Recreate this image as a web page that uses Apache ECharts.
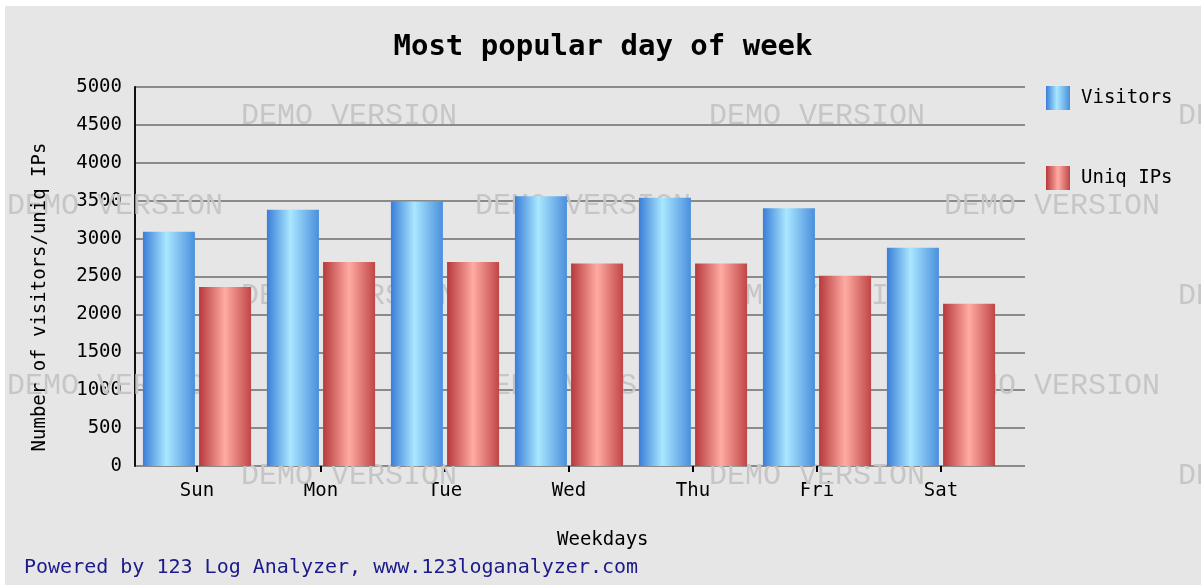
<!DOCTYPE html>
<html>
<head>
<meta charset="utf-8">
<script src="https://cdn.jsdelivr.net/npm/echarts@6/dist/echarts.min.js"></script>
<style>
html,body{margin:0;padding:0;background:#ffffff;}
#c{position:absolute;left:5px;top:6px;width:1196px;height:579px;}
</style>
</head>
<body>
<div id="c"></div>
<script>
const categories = ['Sun', 'Mon', 'Tue', 'Wed', 'Thu', 'Fri', 'Sat'];
const visitors = [3090, 3380, 3490, 3560, 3540, 3400, 2880];
const uniqIPs = [2360, 2690, 2690, 2670, 2670, 2510, 2140];
const yTicks = { min: 0, max: 5000, interval: 500 };
const titleText = 'Most popular day of week';
const yName = 'Number of visitors/uniq IPs';
const xName = 'Weekdays';
const footer = 'Powered by 123 Log Analyzer, www.123loganalyzer.com';

const FONT = '"DejaVu Sans Mono", "Liberation Mono", monospace';
const OX = 5, OY = 6; // container offset

function grad(stops) {
  return new echarts.graphic.LinearGradient(0, 0, 1, 0, stops);
}
const blueGrad = grad([
  { offset: 0, color: '#3a7ed8' },
  { offset: 0.45, color: '#a9e7ff' },
  { offset: 1, color: '#4a8fdc' }
]);
const redGrad = grad([
  { offset: 0, color: '#b6393b' },
  { offset: 0.5, color: '#ffaba3' },
  { offset: 1, color: '#c04646' }
]);

const wm = [];
const wmRows = [
  [116, [241, 709, 1178]],
  [206, [7, 475, 944]],
  [296, [241, 709, 1178]],
  [386, [7, 475, 944]],
  [476, [241, 709, 1178]]
];
wmRows.forEach(([y, xs]) => xs.forEach(x => wm.push({
  type: 'text', left: x - OX, top: y - OY - 15, z: 1, silent: true,
  style: { text: 'DEMO VERSION', fill: '#c6c6c6', font: '30px "Liberation Mono", monospace' }
})));

const chart = echarts.init(document.getElementById('c'), null, { renderer: 'canvas' });
chart.setOption({
  backgroundColor: '#e6e6e6',
  animation: false,
  title: {
    text: titleText, left: 'center', top: 22,
    textStyle: { fontFamily: FONT, fontSize: 29, fontWeight: 'bold', color: '#000' }
  },
  legend: {
    orient: 'vertical', left: 1046 - OX, top: 86 - OY, padding: 0,
    itemWidth: 24, itemHeight: 24, itemGap: 56, icon: 'rect',
    textStyle: { fontFamily: FONT, fontSize: 19, color: '#000', padding: [4, 0, 0, 6] },
    data: ['Visitors', 'Uniq IPs']
  },
  grid: [
    { left: 135 - OX, top: 87 - OY, width: 868, height: 379 },
    { left: 135 - OX, top: 87 - OY, width: 890, height: 379 }
  ],
  xAxis: [
    {
      type: 'category', gridIndex: 0, data: categories,
      axisLine: { show: false },
      axisTick: { show: true, alignWithLabel: true, length: 6, lineStyle: { color: '#000', width: 2 } },
      axisLabel: { fontFamily: FONT, fontSize: 19, color: '#000', margin: 16 }
    },
    {
      type: 'value', gridIndex: 1, show: false
    }
  ],
  yAxis: [
    {
      type: 'value', gridIndex: 0, min: yTicks.min, max: yTicks.max, interval: yTicks.interval,
      axisLine: { show: true, lineStyle: { color: '#111', width: 2 } },
      axisTick: { show: false },
      splitLine: { show: false },
      axisLabel: { fontFamily: FONT, fontSize: 19, color: '#000', margin: 13, formatter: v => String(v) }
    },
    {
      type: 'value', gridIndex: 1, min: yTicks.min, max: yTicks.max, interval: yTicks.interval,
      axisLine: { show: false }, axisTick: { show: false }, axisLabel: { show: false },
      splitLine: { show: true, lineStyle: { color: '#8a8a8a', width: 2 } }
    }
  ],
  series: [
    {
      name: 'Visitors', type: 'bar', xAxisIndex: 0, yAxisIndex: 0,
      data: visitors, barWidth: 52, barGap: '8%', z: 3,
      itemStyle: { color: blueGrad }
    },
    {
      name: 'Uniq IPs', type: 'bar', xAxisIndex: 0, yAxisIndex: 0,
      data: uniqIPs, barWidth: 52, barGap: '8%', z: 3,
      itemStyle: { color: redGrad }
    }
  ],
  graphic: wm.concat([
    {
      type: 'text', x: 40 - OX, y: 297 - OY, rotation: Math.PI / 2, z: 5,
      style: { text: yName, fill: '#000', font: '19px ' + FONT, align: 'center', verticalAlign: 'middle' }
    },
    {
      type: 'text', left: 557 - OX, top: 531 - OY, z: 5,
      style: { text: xName, fill: '#000', font: '19px ' + FONT }
    },
    {
      type: 'text', left: 24 - OX, top: 558 - OY, z: 5,
      style: { text: footer, fill: '#1a1a8a', font: '20px ' + FONT }
    }
  ])
});
</script>
</body>
</html>
